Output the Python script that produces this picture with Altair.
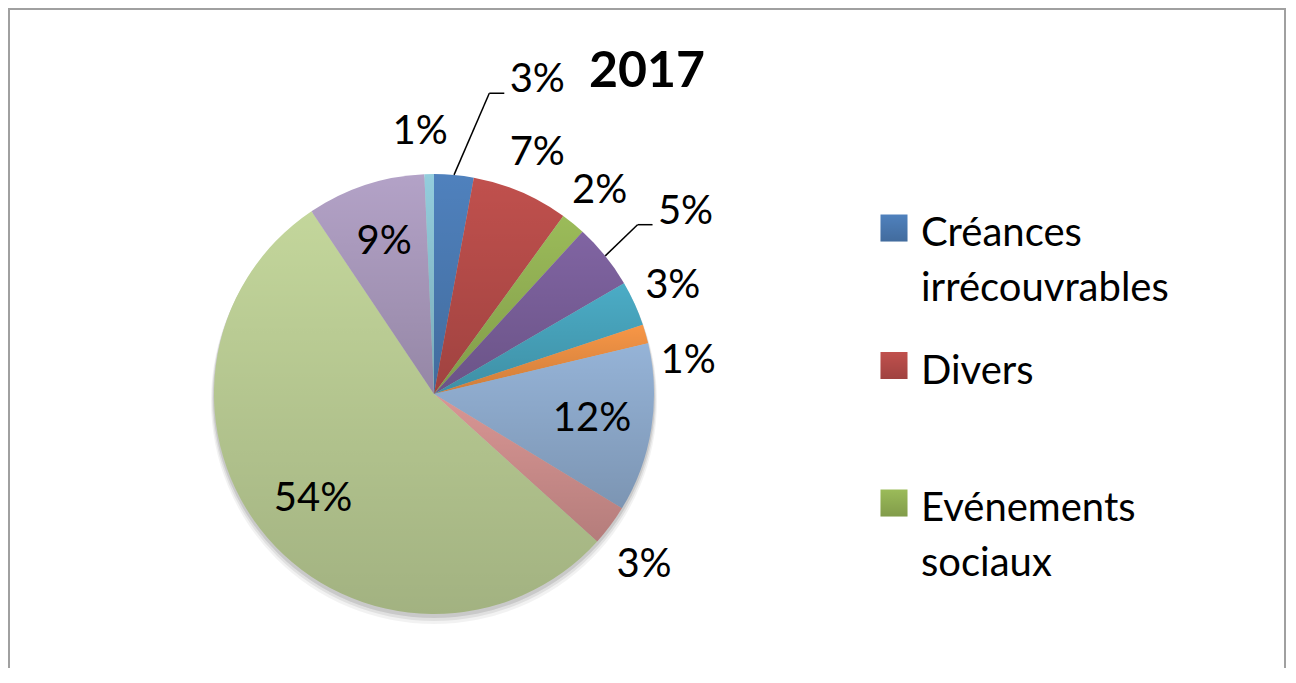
import math
import altair as alt
import pandas as pd

# ---------------- data ----------------
categories = [
    "Créances irrécouvrables",
    "Divers",
    "Evénements sociaux",
    "Catégorie 4",
    "Catégorie 5",
    "Catégorie 6",
    "Catégorie 7",
    "Catégorie 8",
    "Catégorie 9",
    "Catégorie 10",
    "Catégorie 11",
]
values = [2.9, 7.1, 1.8, 4.8, 3.3, 1.4, 12.4, 3.0, 53.9, 8.7, 0.7]
colors = ["#4F81BD", "#C0504D", "#9BBB59", "#8064A2", "#4BACC6", "#F79646",
          "#95B3D7", "#D99694", "#C3D69B", "#B3A2C7", "#93CDDD"]
legend_categories = categories[:3]
title_text = "2017"

# ---------------- layout / style ----------------
W, H = 1278, 660
CX, CY, R = 426, 386, 220
FONT = "Lato"
FS = 40

# label placement groups: (categories, radius, dx, dy)
label_groups = [
    ([categories[6], categories[8], categories[9]], 160, 0, 0),
    ([categories[1], categories[2], categories[4]], 262, 0, 0),
    ([categories[10]], 262, -8, 0),
    ([categories[5]], 262, 2, 39),
    ([categories[7]], 262, 0, 14),
]
# labels with leader lines: (category, radius, dx, dy)
callouts = [
    (categories[0], 300, 76, -15),
    (categories[3], 300, 18, 6),
]

df = pd.DataFrame({"category": categories, "value": values, "order": list(range(len(values)))})

theta_scale = alt.Scale(domain=[0, 100], range=[0, 2 * math.pi])
color_scale = alt.Scale(domain=categories, range=colors)

base = (
    alt.Chart(df)
    .transform_joinaggregate(total="sum(value)")
    .transform_calculate(pct="datum.value / datum.total * 100")
    .transform_window(cum="sum(pct)", sort=[alt.SortField("order")])
    .transform_calculate(
        start="datum.cum - datum.pct",
        end="datum.cum",
        mid="datum.cum - datum.pct / 2",
        label="format(datum.pct, '.0f') + '%'",
    )
)

one_row = alt.Chart(df).transform_aggregate(n="count()")

# shadow under the pie
shadows = [
    one_row.mark_arc(outerRadius=R + 1, theta=0, theta2=2 * math.pi, color="black", opacity=0.10)
    .encode(x=alt.value(CX), y=alt.value(CY + 3)),
    one_row.mark_arc(outerRadius=R + 2, theta=0, theta2=2 * math.pi, color="black", opacity=0.07)
    .encode(x=alt.value(CX), y=alt.value(CY + 5)),
    one_row.mark_arc(outerRadius=R + 3, theta=0, theta2=2 * math.pi, color="black", opacity=0.05)
    .encode(x=alt.value(CX), y=alt.value(CY + 7)),
]

slices = base.mark_arc(outerRadius=R).encode(
    theta=alt.Theta("start:Q", scale=theta_scale),
    theta2="end:Q",
    color=alt.Color("category:N", scale=color_scale, legend=None),
    x=alt.value(CX),
    y=alt.value(CY),
)

shade = alt.Gradient(
    gradient="linear",
    stops=[alt.GradientStop(color="rgba(0,0,0,0)", offset=0),
           alt.GradientStop(color="rgba(0,0,0,0.17)", offset=1)],
    x1=0, x2=0, y1=0, y2=1,
)

slice_shade = base.mark_arc(outerRadius=R, fill=shade).encode(
    theta=alt.Theta("start:Q", scale=theta_scale),
    theta2="end:Q",
    x=alt.value(CX),
    y=alt.value(CY),
)

text_style = dict(font=FONT, fontSize=FS, color="black", align="center", baseline="middle")

label_layers = []
for cats, rad, dx, dy in label_groups:
    label_layers.append(
        base.transform_filter(alt.FieldOneOfPredicate(field="category", oneOf=cats))
        .mark_text(radius=rad, dx=dx, dy=dy, **text_style)
        .encode(
            theta=alt.Theta("mid:Q", scale=theta_scale, stack=False),
            text="label:N",
            x=alt.value(CX),
            y=alt.value(CY),
        )
    )

callout_layers = []
for cat, rad, dx, dy in callouts:
    c = base.transform_filter(alt.datum.category == cat)
    callout_layers.append(
        c.mark_text(radius=rad, dx=dx, dy=dy, **text_style).encode(
            theta=alt.Theta("mid:Q", scale=theta_scale, stack=False),
            text="label:N",
            x=alt.value(CX),
            y=alt.value(CY),
        )
    )
    geo = c.transform_calculate(
        a="datum.mid * 2 * PI / 100",
    ).transform_calculate(
        ex=f"{CX} + {R} * sin(datum.a)",
        ey=f"{CY} - {R} * cos(datum.a)",
        lx=f"{CX} + {rad} * sin(datum.a) + {dx}",
        ly=f"{CY} - {rad} * cos(datum.a) + {dy}",
    ).transform_calculate(
        kx="datum.lx - 48",
        ky="datum.ly + 13",
        tx="datum.lx - 33",
    )
    callout_layers.append(
        geo.mark_rule(color="black", strokeWidth=1.5).encode(
            x=alt.X("ex:Q", scale=None, axis=None),
            y=alt.Y("ey:Q", scale=None, axis=None),
            x2="kx:Q",
            y2="ky:Q",
        )
    )
    callout_layers.append(
        geo.mark_rule(color="black", strokeWidth=1.5).encode(
            x=alt.X("kx:Q", scale=None, axis=None),
            y=alt.Y("ky:Q", scale=None, axis=None),
            x2="tx:Q",
        )
    )

# legend (first three entries, like the truncated original legend)
leg = base.transform_filter(alt.FieldOneOfPredicate(field="category", oneOf=legend_categories))
leg_y = alt.Y("category:N", scale=alt.Scale(type="point", domain=legend_categories, range=[220, 495], padding=0), axis=None)
legend_symbols = leg.mark_square(size=729, opacity=1).encode(
    x=alt.value(886),
    y=leg_y,
    color=alt.Color("category:N", scale=color_scale, legend=None),
)
legend_symbol_shade = leg.mark_square(size=729, opacity=1, fill=shade).encode(
    x=alt.value(886),
    y=leg_y,
)
legend_text = leg.mark_text(
    align="left", baseline="alphabetic", dy=18, lineBreak=" ", lineHeight=55,
    font=FONT, fontSize=FS, color="black",
).encode(
    x=alt.value(913),
    y=leg_y,
    text="category:N",
)

# outer frame (left, top, right edges)
frame = [
    one_row.mark_rule(color="#a0a0a0", strokeWidth=2).encode(x=alt.value(1), y=alt.value(0), y2=alt.value(H)),
    one_row.mark_rule(color="#a0a0a0", strokeWidth=2).encode(x=alt.value(W - 1), y=alt.value(0), y2=alt.value(H)),
    one_row.mark_rule(color="#a0a0a0", strokeWidth=2).encode(x=alt.value(0), x2=alt.value(W), y=alt.value(1)),
]

chart = (
    alt.layer(
        *frame, *shadows, slices, slice_shade, *label_layers, *callout_layers,
        legend_symbols, legend_symbol_shade, legend_text,
    )
    .resolve_scale(x="independent", y="independent")
    .properties(
        width=W,
        height=H,
        padding=0,
        autosize=alt.AutoSizeParams(type="none"),
        background="white",
        title=alt.TitleParams(
            text=title_text, anchor="middle", frame="group", offset=-80, dy=50,
            baseline="alphabetic", font=FONT, fontSize=50, fontWeight="bold", color="black",
        ),
    )
    .configure_view(strokeWidth=0)
)

chart.save("out.html", embed_options={"renderer": "svg", "actions": False})
